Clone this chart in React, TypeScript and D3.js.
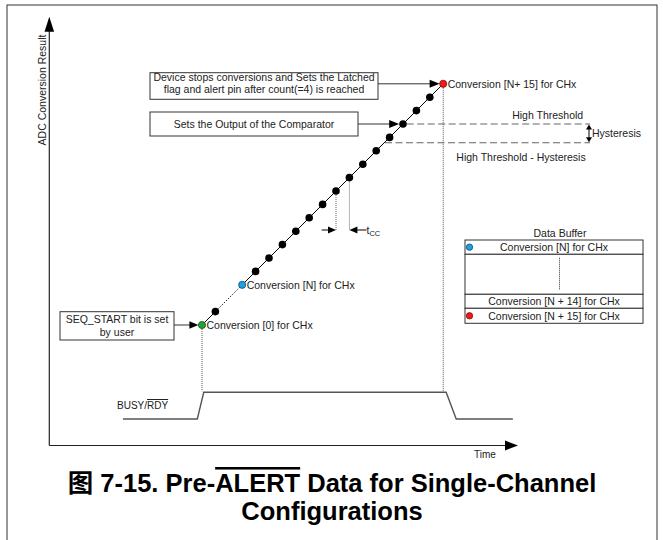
import React from 'react';
import * as d3 from 'd3';

// ---- data ----
const conversionIndex = [0, 1, 3, 4, 5, 6, 7, 8, 9, 10, 11, 12, 13, 14, 15, 16, 17, 18];
const conversionValue = [0, 1, 3, 4, 5, 6, 7, 8, 9, 10, 11, 12, 13, 14, 15, 16, 17, 18];
const conversionRole = [
  'first', 'sample', 'bufferFirst', 'sample', 'sample', 'sample', 'sample', 'sample', 'sample',
  'sample', 'sample', 'sample', 'sample', 'sample', 'sample', 'sample', 'sample', 'bufferLast',
];
const roleLabels: Record<string, string> = {
  first: 'Conversion [0] for CHx',
  bufferFirst: 'Conversion [N] for CHx',
  bufferLast: 'Conversion [N+ 15] for CHx',
};
const highThreshold = 15;
const hysteresis = 1.4;
const tccIndex = [10, 11];
const busyTime = [-5.9, -0.35, 0.13, 18.22, 18.97, 23.2];
const busyLevel = [0, 0, 1, 1, 0, 0];
const bufferRows = ['Conversion [N] for CHx', '', 'Conversion [N + 14] for CHx', 'Conversion [N + 15] for CHx'];
const bufferRowMarker = ['bufferFirst', '', '', 'bufferLast'];

const FONT = "'Liberation Sans', Arial, Helvetica, sans-serif";
const roleFill: Record<string, string> = { first: '#20a23c', bufferFirst: '#1e9fe0', bufferLast: '#ec1c1c', sample: '#000' };
const roleStroke: Record<string, string> = { first: '#0c5a1c', bufferFirst: '#0c4d78', bufferLast: '#8a0a0a', sample: '#000' };

function head(x: number, y: number, angle: number, len = 10, hw = 4) {
  const c = Math.cos(angle), s = Math.sin(angle);
  const bx = x - c * len, by = y - s * len;
  return `${x},${y} ${bx - s * hw},${by + c * hw} ${bx + s * hw},${by - c * hw}`;
}

export default function App() {
  const x = d3.scaleLinear().domain([0, 18]).range([202, 443.2]);
  const y = d3.scaleLinear().domain([0, 18]).range([325, 83.8]);
  const yBusy = d3.scaleLinear().domain([0, 1]).range([419, 392.3]);

  const pts = conversionIndex.map((c, i) => ({ c, v: conversionValue[i], role: conversionRole[i] }));
  const line = d3.line<{ c: number; v: number }>().x(d => x(d.c)).y(d => y(d.v));
  const busyLine = d3.line<number>().x((_, i) => x(busyTime[i])).y(d => yBusy(d));

  const find = (role: string) => pts.find(p => p.role === role)!;
  const pFirst = find('first');
  const pBufFirst = find('bufferFirst');
  const pLast = find('bufferLast');
  const pSecond = pts[1];
  const pHigh = pts.find(p => p.v === highThreshold)!;

  const yHigh = y(highThreshold);
  const yLow = y(highThreshold - hysteresis);

  const tableX0 = 465, tableX1 = 643;
  const rowEdges = [240, 254.3, 294.3, 308.3, 323.3];

  const txt = { fontFamily: FONT, fontSize: 10.5, fill: '#222' } as const;

  return (
    <svg width={663} height={540} style={{ position: 'absolute', left: 0, top: 0, background: '#fff' }}>
      <rect x={7} y={5} width={650} height={545} fill="#fff" stroke="#333" strokeWidth={1} />

      {/* axes */}
      <line x1={49.3} y1={30} x2={49.3} y2={445.5} stroke="#222" strokeWidth={1.2} />
      <polygon points={head(49.3, 16.7, -Math.PI / 2, 15, 4.8)} fill="#000" />
      <line x1={49.3} y1={445.5} x2={506} y2={445.5} stroke="#222" strokeWidth={1.2} />
      <polygon points={head(518, 445.5, 0, 13, 5)} fill="#000" />
      <text {...txt} x={0} y={0} textAnchor="middle" transform="translate(46,90) rotate(-90)">ADC Conversion Result</text>
      <text {...txt} fontSize={10} x={485} y={457.5} textAnchor="middle">Time</text>

      {/* threshold lines */}
      <line x1={406.7} y1={yHigh} x2={590} y2={yHigh} stroke="#666" strokeWidth={1.2} strokeDasharray="7,3.5" />
      <line x1={385} y1={yLow} x2={590} y2={yLow} stroke="#666" strokeWidth={1.2} strokeDasharray="7,3.5" />
      <line x1={589} y1={yHigh + 4} x2={589} y2={yLow - 4} stroke="#000" strokeWidth={1} />
      <polygon points={head(589, yHigh + 0.5, -Math.PI / 2, 5, 3)} fill="#000" />
      <polygon points={head(589, yLow - 0.5, Math.PI / 2, 5, 3)} fill="#000" />
      <text {...txt} x={547.7} y={118.5} textAnchor="middle">High Threshold</text>
      <text {...txt} x={592} y={137} textAnchor="start">Hysteresis</text>
      <text {...txt} x={521} y={160.5} textAnchor="middle">High Threshold - Hysteresis</text>

      {/* vertical dotted guides */}
      <line x1={x(pFirst.c)} y1={y(pFirst.v)} x2={x(pFirst.c)} y2={yBusy(1) - 1} stroke="#555" strokeWidth={1} strokeDasharray="1,1" />
      <line x1={x(pLast.c)} y1={y(pLast.v)} x2={x(pLast.c)} y2={yBusy(1) - 1} stroke="#555" strokeWidth={1} strokeDasharray="1,1" />
      {tccIndex.map(c => (
        <line key={c} x1={x(c)} y1={y(c)} x2={x(c)} y2={230} stroke="#666" strokeWidth={1} strokeDasharray="1,1" />
      ))}
      <line x1={321.7} y1={230} x2={x(tccIndex[0]) - 6} y2={230} stroke="#000" strokeWidth={1} />
      <polygon points={head(x(tccIndex[0]), 230, 0, 8, 3.5)} fill="#000" />
      <line x1={366.5} y1={230} x2={x(tccIndex[1]) + 6} y2={230} stroke="#000" strokeWidth={1} />
      <polygon points={head(x(tccIndex[1]), 230, Math.PI, 8, 3.5)} fill="#000" />
      <text {...txt} x={366.5} y={234}>t<tspan fontSize={7.5} dy={1.5}>CC</tspan></text>

      {/* conversion trace */}
      <path d={line([pFirst, pSecond]) || ''} fill="none" stroke="#000" strokeWidth={1} />
      <path d={line([pSecond, pBufFirst]) || ''} fill="none" stroke="#000" strokeWidth={1} strokeDasharray="1.3,1.7" />
      <path d={line(pts.slice(2)) || ''} fill="none" stroke="#000" strokeWidth={1} />
      {pts.map(p => (
        <circle key={p.c} cx={x(p.c)} cy={y(p.v)} r={p.role === 'sample' ? 3.8 : 3.6}
          fill={roleFill[p.role]} stroke={roleStroke[p.role]} strokeWidth={p.role === 'sample' ? 0 : 0.8} />
      ))}
      {pts.filter(p => roleLabels[p.role]).map(p => (
        <text key={p.role} {...txt} x={x(p.c) + 4.5} y={y(p.v) + 3.8}>{roleLabels[p.role]}</text>
      ))}

      {/* annotation boxes */}
      <rect x={150} y={72.7} width={228} height={26.6} fill="#fff" stroke="#333" strokeWidth={1} />
      <text {...txt} x={264} y={80.5} textAnchor="middle">Device stops conversions and Sets the Latched</text>
      <text {...txt} x={264} y={93} textAnchor="middle">flag and alert pin after count(=4) is reached</text>
      <line x1={378} y1={y(pLast.v)} x2={432} y2={y(pLast.v)} stroke="#333" strokeWidth={1} />
      <polygon points={head(x(pLast.c) - 3.6, y(pLast.v), 0, 10, 4)} fill="#000" />

      <rect x={150} y={112} width={208} height={24} fill="#fff" stroke="#333" strokeWidth={1} />
      <text {...txt} x={254} y={127.8} textAnchor="middle">Sets the Output of the Comparator</text>
      <line x1={358} y1={yHigh} x2={392} y2={yHigh} stroke="#333" strokeWidth={1} />
      <polygon points={head(x(pHigh.c) - 3.8, yHigh, 0, 10, 4)} fill="#000" />

      <rect x={60} y={311.7} width={114} height={28.3} fill="#fff" stroke="#333" strokeWidth={1} />
      <text {...txt} x={117} y={322.8} textAnchor="middle">SEQ_START bit is set</text>
      <text {...txt} x={117} y={335.5} textAnchor="middle">by user</text>
      <line x1={174} y1={y(pFirst.v)} x2={190} y2={y(pFirst.v)} stroke="#333" strokeWidth={1} />
      <polygon points={head(x(pFirst.c) - 3.6, y(pFirst.v), 0, 9, 3.8)} fill="#000" />

      {/* data buffer */}
      <text {...txt} x={560} y={236.5} textAnchor="middle">Data Buffer</text>
      {bufferRows.map((r, i) => (
        <g key={i}>
          <rect x={tableX0} y={rowEdges[i]} width={tableX1 - tableX0} height={rowEdges[i + 1] - rowEdges[i]}
            fill="#fff" stroke="#333" strokeWidth={1} />
          {r && <text {...txt} x={(tableX0 + tableX1) / 2} y={(rowEdges[i] + rowEdges[i + 1]) / 2 + 3.8} textAnchor="middle">{r}</text>}
          {bufferRowMarker[i] && (
            <circle cx={469.5} cy={(rowEdges[i] + rowEdges[i + 1]) / 2} r={3.2}
              fill={roleFill[bufferRowMarker[i]]} stroke={roleStroke[bufferRowMarker[i]]} strokeWidth={0.8} />
          )}
        </g>
      ))}
      <line x1={559.5} y1={257.7} x2={559.5} y2={290} stroke="#333" strokeWidth={1} strokeDasharray="1,1" />

      {/* BUSY/RDY */}
      <path d={busyLine(busyLevel) || ''} fill="none" stroke="#555" strokeWidth={1.4} />
      <text {...txt} fontSize={10} x={117} y={409}>BUSY/<tspan textDecoration="overline" style={{ textDecoration: 'overline' }}>RDY</tspan></text>

      {/* title */}
      <text x={332} y={492} textAnchor="middle" fontFamily={`${FONT}, 'Noto Sans CJK SC'`} fontWeight="bold" fontSize={25.5} fill="#000">
        图 7-15. Pre-<tspan style={{ textDecoration: 'overline' }}>ALERT</tspan> Data for Single-Channel
      </text>
      <text x={332} y={520} textAnchor="middle" fontFamily={FONT} fontWeight="bold" fontSize={25.5} fill="#000">Configurations</text>
    </svg>
  );
}
